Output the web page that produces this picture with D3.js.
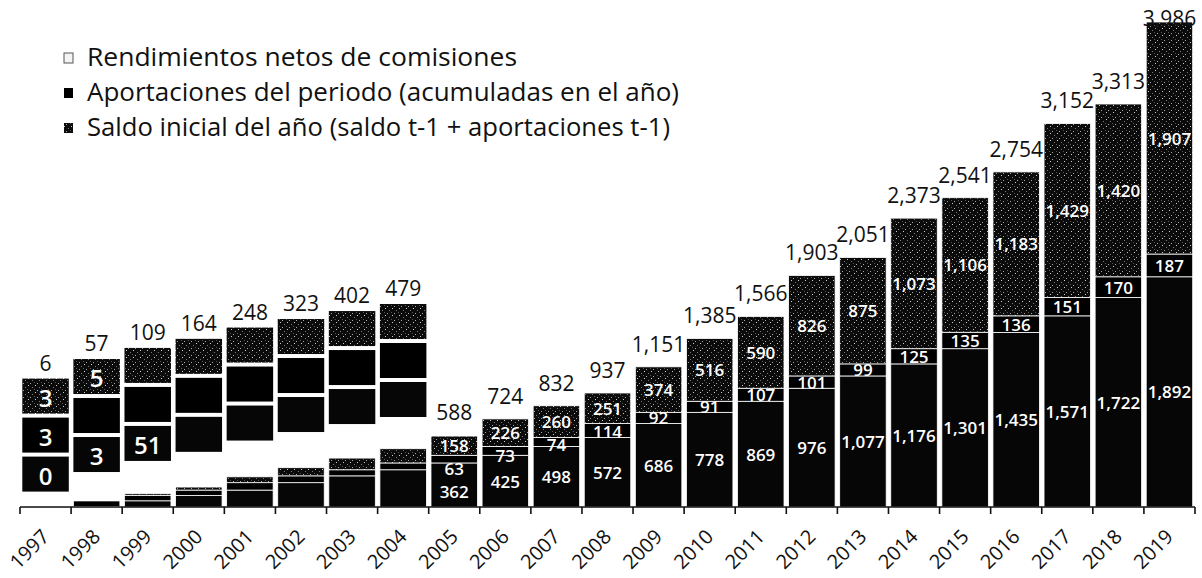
<!DOCTYPE html>
<html>
<head>
<meta charset="utf-8">
<script src="https://cdn.jsdelivr.net/npm/d3@7"></script>
<style>
  body { margin: 0; background: #fff; }
  svg { display: block; font-family: "Open Sans", sans-serif; }
</style>
</head>
<body>
<div id="chart"></div>
<script>
const years = [1997, 1998, 1999, 2000, 2001, 2002, 2003, 2004, 2005, 2006, 2007, 2008,
  2009, 2010, 2011, 2012, 2013, 2014, 2015, 2016, 2017, 2018, 2019];
const saldo = [0, 3, 51, 94, 139, 200, 256, 306, 362, 425, 498, 572,
  686, 778, 869, 976, 1077, 1176, 1301, 1435, 1571, 1722, 1892];
const aport = [3, 49, 43, 45, 61, 56, 50, 56, 63, 73, 74, 114,
  92, 91, 107, 101, 99, 125, 135, 136, 151, 170, 187];
const rend = [3, 5, 15, 25, 48, 67, 96, 117, 158, 226, 260, 251,
  374, 516, 590, 826, 875, 1073, 1106, 1183, 1429, 1420, 1907];
const totals = [6, 57, 109, 164, 248, 323, 402, 479, 588, 724, 832, 937,
  1151, 1385, 1566, 1903, 2051, 2373, 2541, 2754, 3152, 3313, 3986];
const legendLabels = ["Rendimientos netos de comisiones",
  "Aportaciones del periodo (acumuladas en el año)",
  "Saldo inicial del año (saldo t-1 + aportaciones t-1)"];
// years before 2005 get a magnified box next to the tiny bar
const insetYears = years.filter(d => d < 2005);
// inset numbers still readable in the scan
const insetSaldoShown = [1997, 1998, 1999];
const insetAportShown = [1997];
const insetRendShown = [1997, 1998];

const fmt = d3.format(",");
const W = 1202, H = 578;

const svg = d3.select("#chart").append("svg")
    .attr("width", W)
    .attr("height", H);

// speckle texture for the rendimientos segment
const defs = svg.append("defs");
const pat = defs.append("pattern")
    .attr("id", "speckle")
    .attr("patternUnits", "userSpaceOnUse")
    .attr("width", 7).attr("height", 7);
pat.append("rect").attr("width", 7).attr("height", 7).attr("fill", "#0b0b0b");
[[0, 0, "#cfcfcf"], [4, 2, "#7a7a7a"], [2, 5, "#a8a8a8"], [6, 4, "#555"]]
  .forEach(p => pat.append("rect").attr("x", p[0]).attr("y", p[1])
      .attr("width", 1).attr("height", 1).attr("fill", p[2]));

const colors = {saldo: "#060606", aport: "#000", rend: "url(#speckle)"};

const rows = years.map((yr, i) => ({year: yr, saldo: saldo[i], aport: aport[i], rend: rend[i], total: totals[i]}));
const keys = ["saldo", "aport", "rend"];
const series = d3.stack().keys(keys)(rows);

const x = d3.scaleBand().domain(years).range([20, 1195]).paddingInner(0.09).paddingOuter(0.045);
const y = d3.scaleLinear().domain([0, 3986]).range([507, 22]);
const yInset = d3.scaleSqrt().domain([0, 479]).range([388, 304]);

// main stacked bars
svg.append("g").selectAll("g")
    .data(series)
  .enter().append("g")
    .attr("fill", d => colors[d.key])
  .selectAll("rect")
    .data(d => d)
  .enter().append("rect")
    .attr("x", d => x(d.data.year))
    .attr("width", x.bandwidth())
    .attr("y", d => y(d[1]))
    .attr("height", d => Math.max(0.8, y(d[0]) - y(d[1])))
    .style("stroke", "#fff")
    .style("stroke-width", 0.8);

// segment labels inside the bars (2005 onwards), pushed down when segments are thin
const gap = 23;
const labelRows = [];
rows.forEach((r, i) => {
  if (r.year < 2005) return;
  const mid = k => {
    const s = series[keys.indexOf(k)][i];
    return (y(s[0]) + y(s[1])) / 2;
  };
  const yr = mid("rend");
  const ya = Math.max(mid("aport"), yr + gap);
  const ys = Math.max(mid("saldo"), ya + gap);
  labelRows.push({year: r.year, key: "rend", v: r.rend, y: yr});
  labelRows.push({year: r.year, key: "aport", v: r.aport, y: ya});
  labelRows.push({year: r.year, key: "saldo", v: r.saldo, y: ys});
});
svg.append("g").selectAll("text")
    .data(labelRows)
  .enter().append("text")
    .attr("x", d => x(d.year) + x.bandwidth() / 2)
    .attr("y", d => d.y)
    .attr("text-anchor", "middle")
    .attr("dominant-baseline", "central")
    .style("font-size", "17px")
    .style("font-weight", 600)
    .attr("fill", "#fff")
    .text(d => fmt(d.v));

// magnified boxes for the early years
const boxH = 35, boxStep = 39;
const insetRows = rows.filter(d => insetYears.includes(d.year));
const insetSpec = [
  {key: "rend", off: 0, shown: insetRendShown},
  {key: "aport", off: boxStep, shown: insetAportShown},
  {key: "saldo", off: boxStep * 2, shown: insetSaldoShown}
];
insetSpec.forEach(spec => {
  const g = svg.append("g");
  g.selectAll("rect")
      .data(insetRows)
    .enter().append("rect")
      .attr("x", d => x(d.year))
      .attr("width", x.bandwidth())
      .attr("y", d => yInset(d.total) + spec.off)
      .attr("height", boxH)
      .attr("fill", colors[spec.key]);
  g.selectAll("text")
      .data(insetRows.filter(d => spec.shown.includes(d.year)))
    .enter().append("text")
      .attr("x", d => x(d.year) + x.bandwidth() / 2)
      .attr("y", d => yInset(d.total) + spec.off + boxH / 2 + 1)
      .attr("text-anchor", "middle")
      .attr("dominant-baseline", "central")
      .style("font-size", "24px")
      .style("font-weight", 600)
      .attr("fill", "#fff")
      .text(d => fmt(d[spec.key]));
});

// totals
svg.append("g").selectAll("text")
    .data(rows)
  .enter().append("text")
    .attr("x", d => x(d.year) + x.bandwidth() / 2)
    .attr("y", d => d.year < 2005 ? yInset(d.total) - 8 : Math.max(y(d.total) - 15, 26))
    .attr("text-anchor", "middle")
    .style("font-size", "21px")
    .attr("fill", "#111")
    .text(d => fmt(d.total));

// x axis: baseline with ticks on the band edges
const base = y(0);
const half = x.step() * x.paddingInner() / 2;
const edges = years.map(d => x(d) - half).concat([x(years[years.length - 1]) + x.bandwidth() + half]);
const axis = svg.append("g").attr("stroke", "#111").attr("stroke-width", 1.6);
axis.append("line")
    .attr("x1", edges[0]).attr("x2", edges[edges.length - 1])
    .attr("y1", base).attr("y2", base);
axis.selectAll(".tick")
    .data(edges)
  .enter().append("line")
    .attr("x1", d => d).attr("x2", d => d)
    .attr("y1", base).attr("y2", base + 7);

svg.append("g").selectAll("text")
    .data(years)
  .enter().append("text")
    .attr("transform", d => "translate(" + (x(d) + x.bandwidth() / 2 + 5) + "," + (base + 31) + ") rotate(-45)")
    .attr("text-anchor", "end")
    .style("font-size", "20px")
    .attr("fill", "#111")
    .text(d => d);

// legend
const legendFill = ["#f4f4f4", "#000", "url(#speckle)"];
const legendWidths = [430, 592, 583];
const legend = svg.append("g").attr("transform", "translate(64,0)");
legend.selectAll("rect")
    .data(legendLabels)
  .enter().append("rect")
    .attr("x", 0)
    .attr("y", (d, i) => 53 + 35 * i)
    .attr("width", 9).attr("height", 10)
    .attr("fill", (d, i) => legendFill[i])
    .attr("stroke", (d, i) => i === 0 ? "#555" : "none");
legend.selectAll("text")
    .data(legendLabels)
  .enter().append("text")
    .attr("x", 23)
    .attr("y", (d, i) => 66 + 35 * i)
    .attr("textLength", (d, i) => legendWidths[i])
    .attr("lengthAdjust", "spacingAndGlyphs")
    .style("font-size", "25px")
    .attr("fill", "#111")
    .text(d => d);
</script>
</body>
</html>
